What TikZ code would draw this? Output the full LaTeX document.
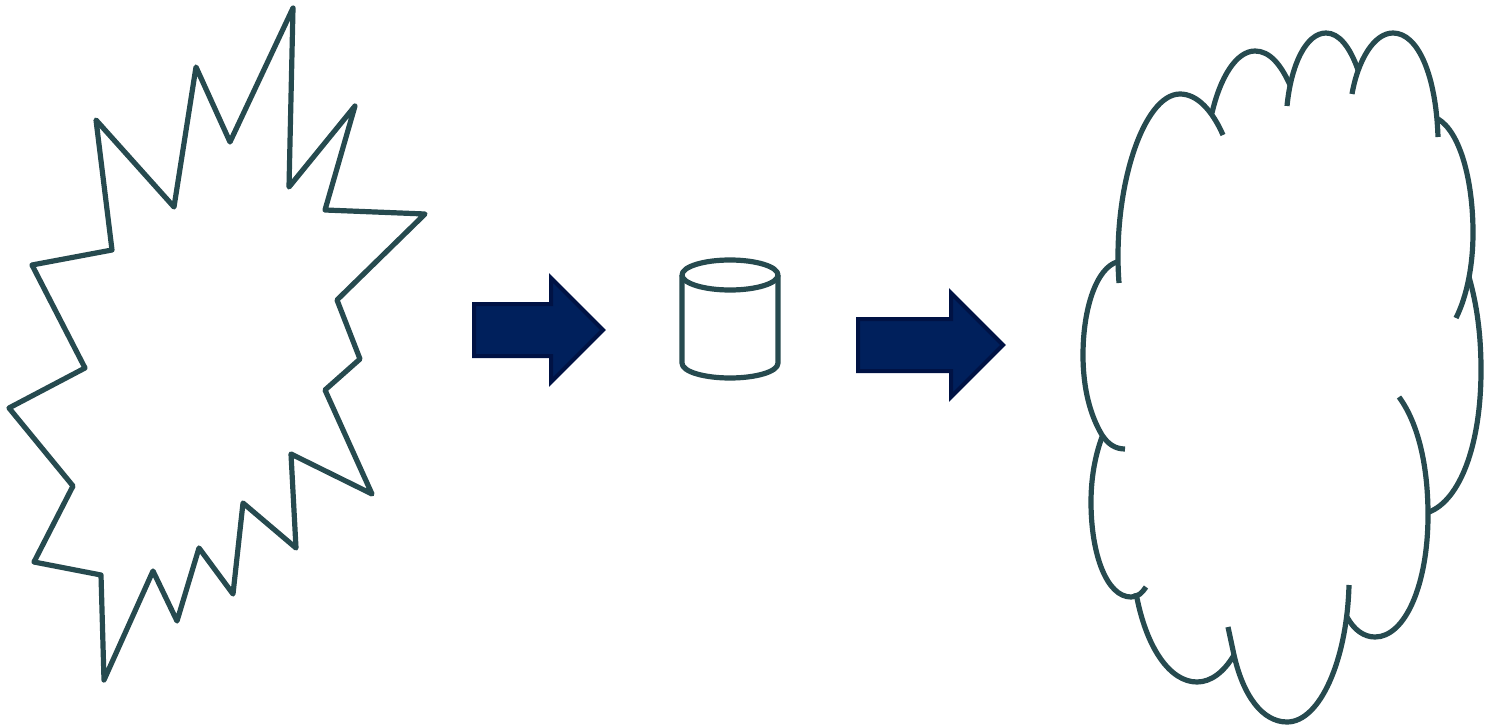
\documentclass[tikz,border=0pt]{standalone}
\usepackage{xcolor}
\usetikzlibrary{arrows.meta}
\definecolor{outline}{HTML}{264A4F}
\definecolor{arrowfill}{HTML}{00205C}
\definecolor{arrowedge}{HTML}{001244}

\begin{document}
\begin{tikzpicture}[
  x=1pt, y=-1pt,
  shapeline/.style={draw=outline, line width=5.2pt, line join=round},
  cloudline/.style={draw=outline, line width=5.2pt},
  bigarrow/.style={draw=arrowedge, fill=arrowfill, line width=4pt, miter limit=10}
]
\useasboundingbox (0,0) rectangle (1488,725);

% burst
\draw[shapeline] (293,8) -- (289,187) -- (355,106) -- (325,210) -- (425,214) -- (337,300)
  -- (360,359) -- (325,390) -- (372,494) -- (291,454) -- (296,548) -- (243,503)
  -- (233,594) -- (199,548) -- (177,621) -- (153,571) -- (104,680) -- (101,575)
  -- (34,562) -- (73,486) -- (9,408) -- (85,368) -- (32,265) -- (112,250)
  -- (96,120) -- (174,207) -- (196,67) -- (230,142) -- cycle;

% arrows
\draw[bigarrow] (474,304) -- (551,304) -- (551,278) -- (603,330) -- (551,382) -- (551,356) -- (474,356) -- cycle;
\draw[bigarrow] (858,319) -- (951,319) -- (951,293) -- (1003,345) -- (951,397) -- (951,371) -- (858,371) -- cycle;

% cylinder
\draw[shapeline] (682,275) -- (682,363) .. controls (682,372) and (705,378) .. (730,378)
  .. controls (755,378) and (778,372) .. (778,363) -- (778,275);
\draw[shapeline] (730,275) ellipse [x radius=48, y radius=15];

% cloud
\draw[cloudline] (1119,283) .. controls (1112,190) and (1143,94) .. (1180,94) .. controls (1197,94) and (1212,110) .. (1223,135);
\draw[cloudline] (1212,113) .. controls (1220,78) and (1236,51) .. (1255,51) .. controls (1270,51) and (1281,65) .. (1290,85);
\draw[cloudline] (1287,106) .. controls (1291,65) and (1306,33) .. (1326,33) .. controls (1339,33) and (1350,47) .. (1358,70);
\draw[cloudline] (1352,94) .. controls (1358,60) and (1374,33) .. (1393,33) .. controls (1418,33) and (1436,75) .. (1438,137);
\draw[cloudline] (1438,119) .. controls (1460,132) and (1473,180) .. (1473,233) .. controls (1473,265) and (1467,296) .. (1456,318);
\draw[cloudline] (1469,277) .. controls (1477,305) and (1481,335) .. (1481,370) .. controls (1481,445) and (1460,500) .. (1429,512);
\draw[cloudline] (1399,397) .. controls (1418,423) and (1428,465) .. (1428,515) .. controls (1428,585) and (1405,637) .. (1375,637) .. controls (1364,637) and (1354,630) .. (1347,617);
\draw[cloudline] (1349,585) .. controls (1347,660) and (1320,722) .. (1287,722) .. controls (1262,722) and (1243,695) .. (1234,655) -- (1228,627);
\draw[cloudline] (1234,655) .. controls (1224,672) and (1211,682) .. (1197,682) .. controls (1170,682) and (1146,648) .. (1136,593);
\draw[cloudline] (1146,587) .. controls (1142,593) and (1138,597) .. (1131,597) .. controls (1107,597) and (1091,555) .. (1091,502) .. controls (1091,478) and (1095,456) .. (1102,437);
\draw[cloudline] (1125,449) .. controls (1115,449) and (1108,444) .. (1102,435) .. controls (1090,415) and (1083,388) .. (1083,355) .. controls (1083,307) and (1097,268) .. (1117,262);
\end{tikzpicture}
\end{document}
